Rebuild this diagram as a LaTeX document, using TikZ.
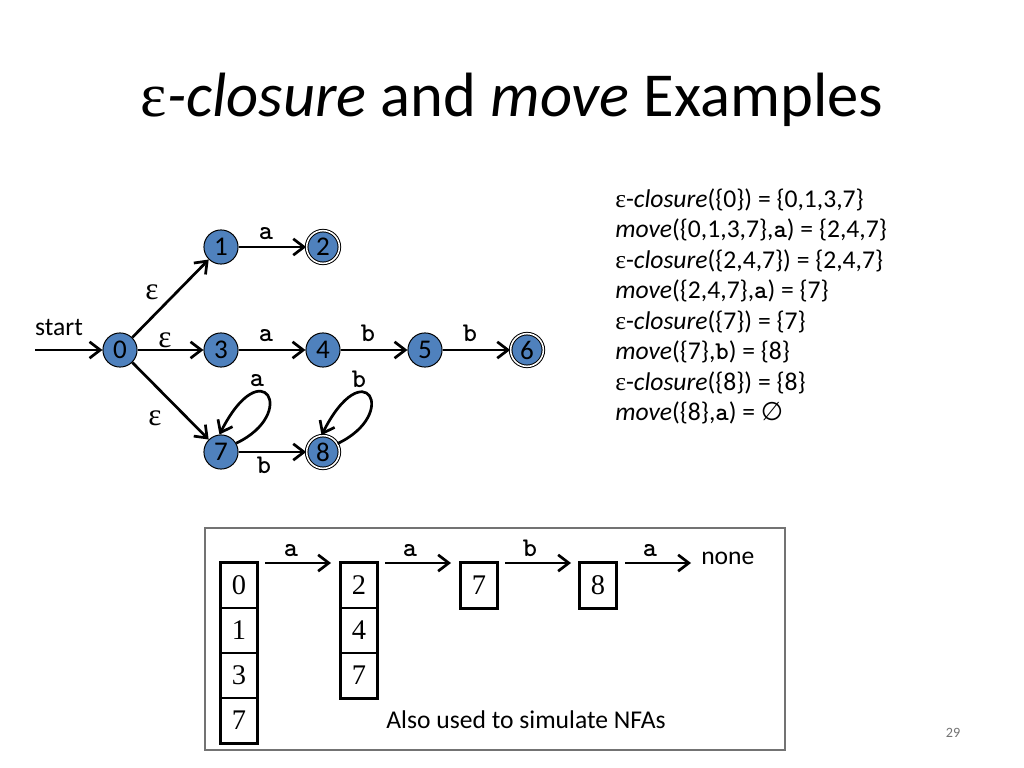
\documentclass[tikz,border=0pt]{standalone}
\usepackage{fontspec}
\setmainfont{Carlito}
\newfontfamily\symf{Liberation Serif}
\newfontfamily\timesf{Liberation Serif}
\newfontfamily\dejaf{DejaVu Sans}
\usetikzlibrary{arrows.meta}
\definecolor{nodeblue}{RGB}{79,129,189}
\newcommand{\epsi}{{\symf ε}}
\newcommand{\monobold}{\ttfamily\bfseries\addfontfeature{FakeBold=2.5}}
\newcommand{\sym}[1]{{\monobold #1}}
\begin{document}
\begin{tikzpicture}[x=0.703125pt,y=-0.703125pt,
  state/.style={circle, draw=black, line width=0.7pt, fill=nodeblue, minimum size=24pt, inner sep=0pt, font=\fontsize{19}{19}\selectfont},
  accept/.style={state, double=white, double distance=1.1pt, minimum size=23pt},
  edge/.style={line width=1.9pt, -{Straight Barb[length=7.5pt,width=11.5pt,line width=1.9pt]}},
  lbl/.style={inner sep=0pt, anchor=base, font=\fontsize{19}{19}\monobold},
  eps/.style={inner sep=0pt, font=\fontsize{22}{22}\symf},
  rtext/.style={anchor=west, inner sep=0pt, font=\fontsize{18}{18}\selectfont},
  cell/.style={draw=black, line width=0.8pt, minimum width=25.3pt, minimum height=31.6pt, inner sep=0pt, font=\fontsize{20}{20}\timesf},
  thickbox/.style={draw=black, line width=2.2pt},
  plain/.style={inner sep=0pt, font=\fontsize{18}{18}\selectfont}]
\fill[white] (0,0) rectangle (1024,768);
\useasboundingbox (0,0) rectangle (1024,768);

% title
\node[inner sep=0pt, font=\fontsize{44}{44}\selectfont] (title) at (512,100) {\epsi\textit{-closure} and \textit{move} Examples};

% NFA
\node[state] (n0) at (120,350) {0};
\node[state] (n1) at (221,247) {1};
\node[accept] (n2) at (323,247) {2};
\node[state] (n3) at (221,350) {3};
\node[state] (n4) at (323,350) {4};
\node[state] (n5) at (425,350) {5};
\node[accept] (n6) at (527,350) {6};
\node[state] (n7) at (221,452) {7};
\node[accept] (n8) at (323,452) {8};
\coordinate (st) at (35,350);
\node[plain] (start) at (59,328) {start};

\draw[edge] (st) -- (n0);
\draw[edge] (n0) -- (n1);
\draw[edge] (n0) -- (n3);
\draw[edge] (n0) -- (n7);
\draw[edge] (n1) -- (n2);
\draw[edge] (n3) -- (n4);
\draw[edge] (n4) -- (n5);
\draw[edge] (n5) -- (n6);
\draw[edge] (n7) -- (n8);
\draw[edge] (n7.30) .. controls +(63,-30) and +(43,-85) .. (n7.95);
\draw[edge] (n8.30) .. controls +(63,-30) and +(43,-85) .. (n8.95);

\node[eps] (e1) at (152,292) {ε};
\node[eps] (e3) at (165,340) {ε};
\node[eps] (e7) at (155,418) {ε};
\node[lbl] (l12) at (266,240) {a};
\node[lbl] (l34) at (266,342) {a};
\node[lbl] (l45) at (368,342) {b};
\node[lbl] (l56) at (470,342) {b};
\node[lbl] (l77) at (257,386) {a};
\node[lbl] (l88) at (359,387) {b};
\node[lbl] (l78) at (264,473) {b};

% right text
\node[rtext] (t1) at (615,200) {\epsi-\textit{closure}(\{0\}) = \{0,1,3,7\}};
\node[rtext] (t2) at (615,230) {\textit{move}(\{0,1,3,7\},\sym{a}) = \{2,4,7\}};
\node[rtext] (t3) at (615,261) {\epsi-\textit{closure}(\{2,4,7\}) = \{2,4,7\}};
\node[rtext] (t4) at (615,291) {\textit{move}(\{2,4,7\},\sym{a}) = \{7\}};
\node[rtext] (t5) at (615,322) {\epsi-\textit{closure}(\{7\}) = \{7\}};
\node[rtext] (t6) at (615,352) {\textit{move}(\{7\},\sym{b}) = \{8\}};
\node[rtext] (t7) at (615,383) {\epsi-\textit{closure}(\{8\}) = \{8\}};
\node[rtext] (t8) at (615,413) {\textit{move}(\{8\},\sym{a}) = {\dejaf ∅}};

% bottom panel
\draw[draw=black!55, line width=0.8pt] (205,528) rectangle (785,750);
\node[cell] (a0) at (239,585.5) {0};
\node[cell] (a1) at (239,630.5) {1};
\node[cell] (a3) at (239,675.5) {3};
\node[cell] (a7) at (239,720.5) {7};
\draw[thickbox] (a0.north west) rectangle (a7.south east);
\node[cell] (b2) at (359,585.5) {2};
\node[cell] (b4) at (359,630.5) {4};
\node[cell] (b7) at (359,675.5) {7};
\draw[thickbox] (b2.north west) rectangle (b7.south east);
\node[cell] (c7) at (479,585.5) {7};
\draw[thickbox] (c7.north west) rectangle (c7.south east);
\node[cell] (d8) at (598,585.5) {8};
\draw[thickbox] (d8.north west) rectangle (d8.south east);

\coordinate (p1s) at (265,563); \coordinate (p1e) at (331,563);
\coordinate (p2s) at (385,563); \coordinate (p2e) at (451,563);
\coordinate (p3s) at (505,563); \coordinate (p3e) at (571,563);
\coordinate (p4s) at (625,563); \coordinate (p4e) at (691,563);
\draw[edge] (p1s) -- (p1e);
\draw[edge] (p2s) -- (p2e);
\draw[edge] (p3s) -- (p3e);
\draw[edge] (p4s) -- (p4e);
\node[lbl] (q1) at (291,556) {a};
\node[lbl] (q2) at (410,556) {a};
\node[lbl] (q3) at (530,556) {b};
\node[lbl] (q4) at (650,556) {a};
\node[plain, anchor=west] (none) at (701,558) {none};
\node[plain] (also) at (526,720) {Also used to simulate NFAs};
\node[inner sep=0pt, text=black!55, font=\fontsize{10}{10}\selectfont] (pg) at (953,733) {29};
\end{tikzpicture}
\end{document}
